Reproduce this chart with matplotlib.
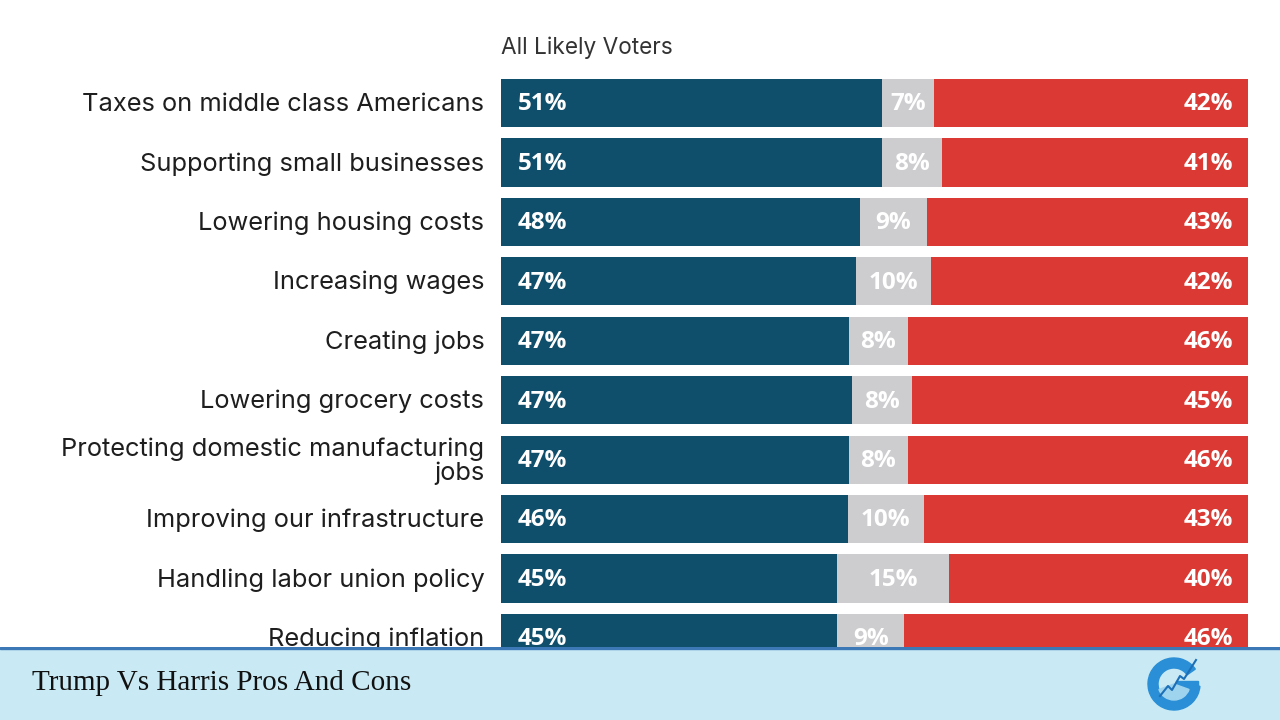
import matplotlib.pyplot as plt
import numpy as np
from matplotlib.patches import Wedge, Rectangle

categories = ["Taxes on middle class Americans", "Supporting small businesses",
              "Lowering housing costs", "Increasing wages", "Creating jobs",
              "Lowering grocery costs", "Protecting domestic manufacturing\njobs",
              "Improving our infrastructure", "Handling labor union policy",
              "Reducing inflation"]
harris = np.array([51, 51, 48, 47, 47, 47, 47, 46, 45, 45])
unsure = np.array([7, 8, 9, 10, 8, 8, 8, 10, 15, 9])
trump = np.array([42, 41, 43, 42, 46, 45, 46, 43, 40, 46])
subtitle = "All Likely Voters"
footer_title = "Trump Vs Harris Pros And Cons"

c_blue = "#0f4f6b"
c_gray = "#cdcccf"
c_red = "#db3a34"

plt.rcParams['font.family'] = ['Inter', 'DejaVu Sans']

fig = plt.figure(figsize=(12.8, 7.2), dpi=100)
fig.patch.set_facecolor("white")

# main axes spans full figure; rows placed so centres land at the right pixels
ax = fig.add_axes([501 / 1280, 0, 747 / 1280, 1])
y = np.arange(len(categories))
tot = harris + unsure + trump
w1 = harris / tot * 100
w2 = unsure / tot * 100
w3 = trump / tot * 100
h = 0.81
ax.barh(y, w1, height=h, color=c_blue)
ax.barh(y, w2, left=w1, height=h, color=c_gray)
ax.barh(y, w3, left=w1 + w2, height=h, color=c_red)

pct = dict(color="white", fontsize=17.5, fontweight="bold", va="center",
           family=["Open Sans", "DejaVu Sans"])
for i in y:
    ax.annotate(f"{harris[i]}%", (0, i), xytext=(12, -1), textcoords="offset points",
                ha="left", **pct)
    ax.annotate(f"{unsure[i]}%", (w1[i] + w2[i] / 2, i), xytext=(0, -1),
                textcoords="offset points", ha="center", **pct)
    ax.annotate(f"{trump[i]}%", (100, i), xytext=(-11, -1), textcoords="offset points",
                ha="right", **pct)
    ax.annotate(categories[i], (0, i), xytext=(-12, -1), textcoords="offset points",
                ha="right", va="center", color="#1e1e1e", fontsize=18.3,
                linespacing=1.0, annotation_clip=False)

step = 59.44
ax.set_xlim(0, 100)
ax.set_ylim((720 - 103) / step, -103 / step)
ax.axis("off")
ax.text(0, -55 / step, subtitle, ha="left", va="center", fontsize=16.3, color="#333333")

# footer band
fax = fig.add_axes([0, 0, 1, 73 / 720], zorder=5)
fax.set_xlim(0, 1280)
fax.set_ylim(0, 73)
fax.axis("off")
fax.add_patch(Rectangle((0, 0), 1280, 73, color="#c9eaf5"))
fax.add_patch(Rectangle((0, 71), 1280, 2, color="#3b78b5"))
fax.text(32, 37, footer_title, ha="left", va="center", fontsize=21,
         family=["Liberation Serif", "DejaVu Serif"], color="#111111")
# simple logo
cx, cy = 1174, 36
fax.add_patch(Wedge((cx, cy), 26, 35, 355, width=10, color="#2a8fd6"))
fax.add_patch(Rectangle((cx + 2, cy - 5), 22, 8, color="#2a8fd6"))
fax.add_patch(Wedge((cx, cy), 16, 200, 340, color="#9fd4ef"))
fax.plot([cx - 14, cx - 6, cx - 2, cx + 6, cx + 10, cx + 22],
         [cy - 12, cy - 2, cy - 6, cy + 8, cy + 5, cy + 24], color="#1d6fb8", lw=1.5)

fig.savefig("out.png", dpi=100)
